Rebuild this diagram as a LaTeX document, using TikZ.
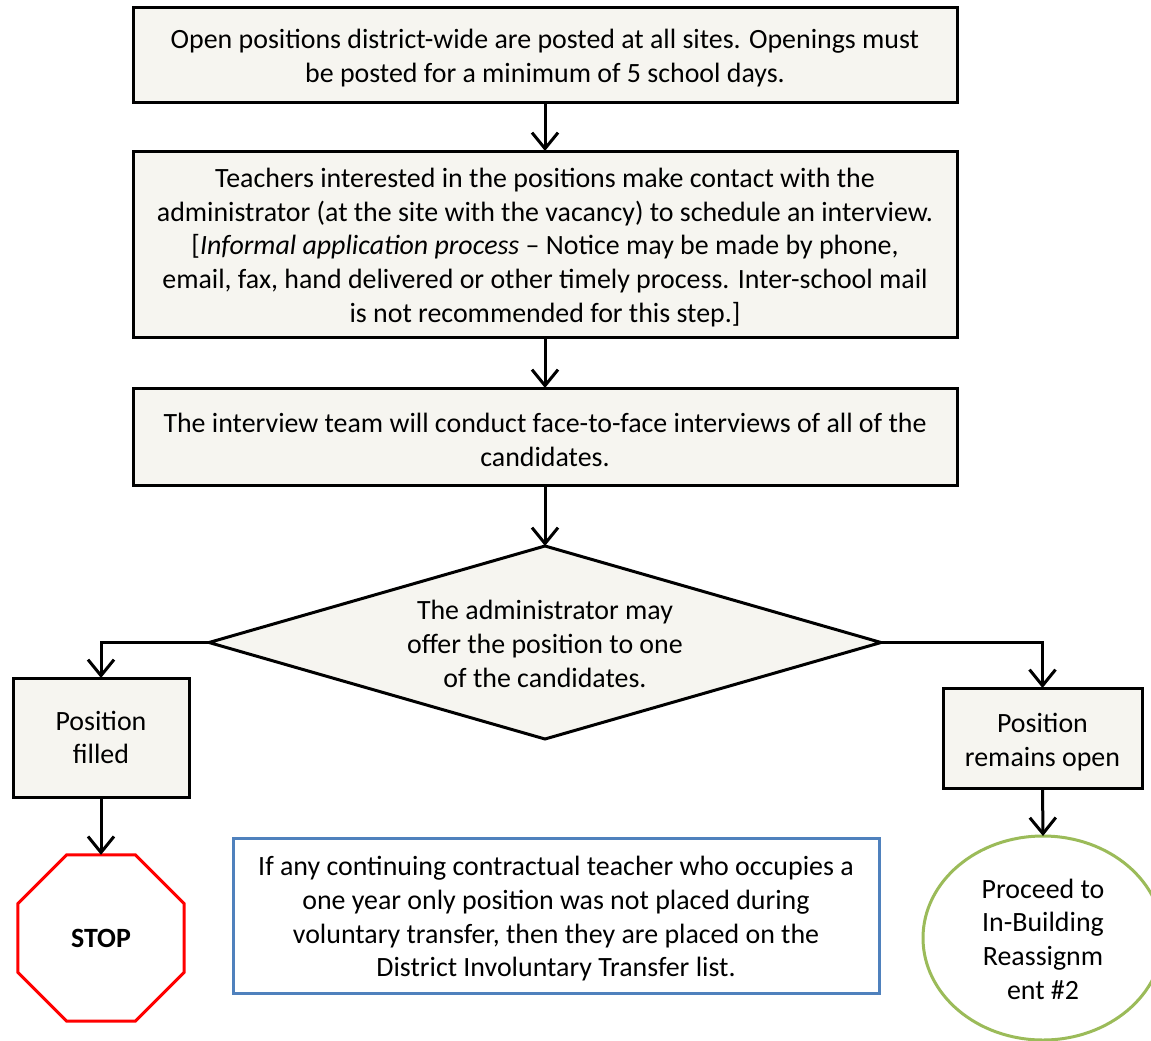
\documentclass[tikz,border=0pt]{standalone}
\usepackage{fontspec}
\setmainfont{Carlito}
\usetikzlibrary{arrows.meta,shapes.geometric}
\definecolor{boxfill}{HTML}{F6F5F0}
\definecolor{bluebd}{HTML}{4F81BD}
\definecolor{greenbd}{HTML}{9BBB59}
\newcommand\tstrut{\rule{0pt}{26pt}}
\begin{document}
\begin{tikzpicture}[x=1pt,y=-1pt,
  every node/.style={font=\fontsize{27.9}{33.7}\selectfont, align=center, inner sep=0, outer sep=0},
  procbox/.style={draw=black, line width=3pt, fill=boxfill, rectangle},
  flow/.style={draw=black, line width=3pt, -{Straight Barb[length=16pt,width=26pt,line width=3pt]}}
]
\useasboundingbox (0,0) rectangle (1151,1041);
\fill[white] (0,0) rectangle (1151,1041);

\node[procbox, minimum width=824, minimum height=94] (b1) at (545,55) {\tstrut Open positions district-wide are posted at all sites. Openings must\\be posted for a minimum of 5 school days.};

\node[procbox, minimum width=824, minimum height=186] (b2) at (545,244) {\tstrut Teachers interested in the positions make contact with the\\administrator (at the site with the vacancy) to schedule an interview.\\{}[\textit{Informal application process} – Notice may be made by phone,\\email, fax, hand delivered or other timely process. Inter-school mail\\is not recommended for this step.]};

\node[procbox, minimum width=824, minimum height=97] (b3) at (545,436.5) {\tstrut The interview team will conduct face-to-face interviews of all of the\\candidates.};

\node[diamond, draw=black, line width=3pt, fill=boxfill, minimum width=672, minimum height=193] (dia) at (545,642.5) {};
\node (diatext) at (545,644) {The administrator may\\offer the position to one\\of the candidates.};

\node[procbox, minimum width=176, minimum height=119] (filled) at (101,737.5) {Position\\filled};
\node[procbox, minimum width=199, minimum height=100] (open) at (1042.5,738) {\rule{0pt}{28pt}Position\\remains open};

\node[regular polygon, regular polygon sides=8, draw=red, line width=3pt, fill=white, minimum size=180] (stop) at (101,938) {\bfseries STOP};

\node[rectangle, draw=bluebd, line width=3pt, fill=white, minimum width=646, minimum height=155] (note) at (556,915.5) {\tstrut If any continuing contractual teacher who occupies a\\one year only position was not placed during\\voluntary transfer, then they are placed on the\\District Involuntary Transfer list.};

\node[ellipse, draw=greenbd, line width=3pt, fill=white, minimum width=240, minimum height=204] (reass) at (1043,938) {};
\node (reasstext) at (1043,939) {Proceed to\\In-Building\\Reassignm\\ent \#2};

\draw[flow] (b1.south) -- (b2.north);
\draw[flow] (b2.south) -- (b3.north);
\draw[flow] (b3.south) -- (dia.north);
\draw[flow] (dia.west) -| (filled.north);
\draw[flow] (dia.east) -| (open.north);
\draw[flow] (filled.south) -- (stop.north);
\draw[flow] (open.south) -- (reass.north);
\end{tikzpicture}
\end{document}
